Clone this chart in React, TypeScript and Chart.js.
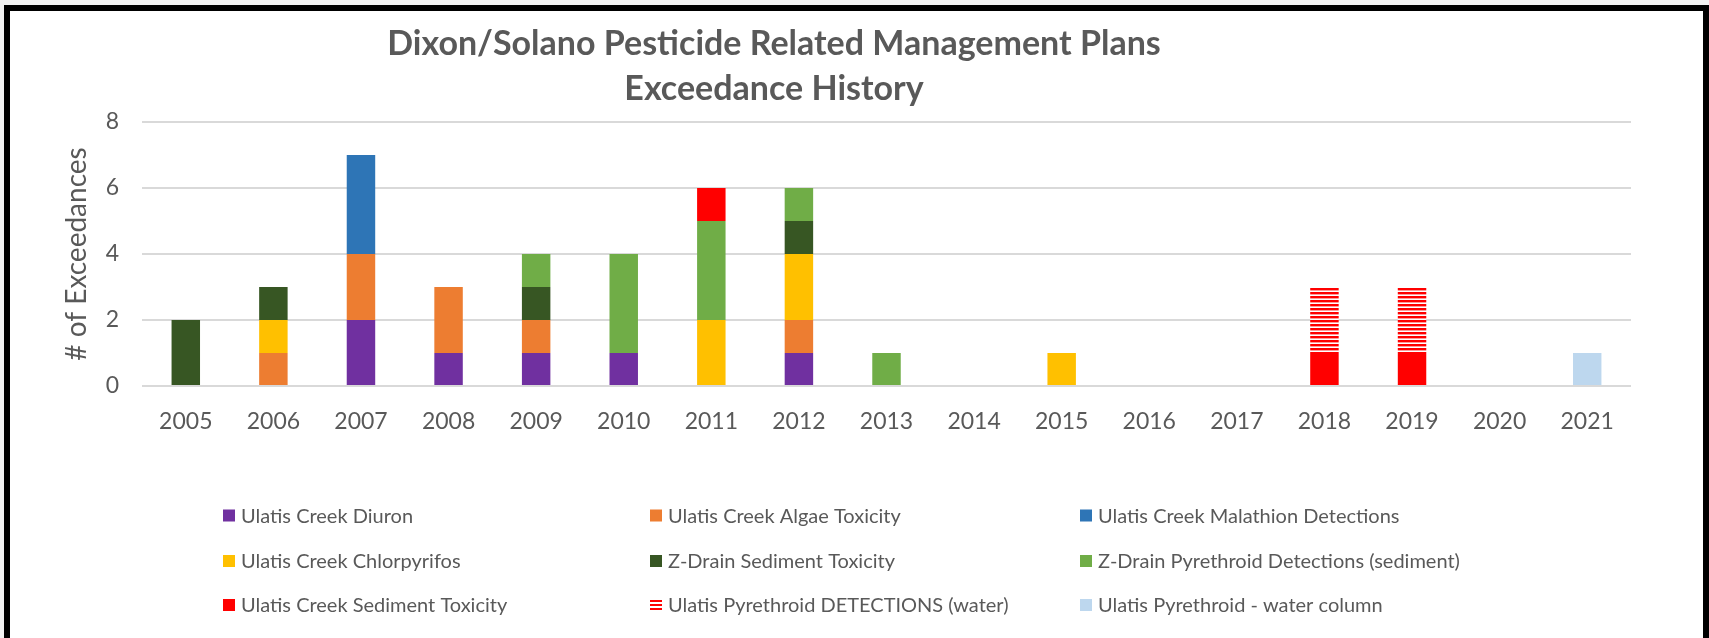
import React, { useEffect, useRef } from "react";
import { Chart, registerables } from "chart.js";

Chart.register(...registerables);

const years = ["2005","2006","2007","2008","2009","2010","2011","2012","2013","2014","2015","2016","2017","2018","2019","2020","2021"];

const seriesNames = [
  "Ulatis Creek Diuron",
  "Ulatis Creek Algae Toxicity",
  "Ulatis Creek Malathion Detections",
  "Ulatis Creek Chlorpyrifos",
  "Z-Drain Sediment Toxicity",
  "Z-Drain Pyrethroid Detections (sediment)",
  "Ulatis Creek Sediment Toxicity",
  "Ulatis Pyrethroid DETECTIONS (water)",
  "Ulatis Pyrethroid - water column",
];

//                       05 06 07 08 09 10 11 12 13 14 15 16 17 18 19 20 21
const diuron =         [0, 0, 2, 1, 1, 1, 0, 1, 0, 0, 0, 0, 0, 0, 0, 0, 0];
const algaeTox =       [0, 1, 2, 2, 1, 0, 0, 1, 0, 0, 0, 0, 0, 0, 0, 0, 0];
const malathion =      [0, 0, 3, 0, 0, 0, 0, 0, 0, 0, 0, 0, 0, 0, 0, 0, 0];
const chlorpyrifos =   [0, 1, 0, 0, 0, 0, 2, 2, 0, 0, 1, 0, 0, 0, 0, 0, 0];
const zDrainSedTox =   [2, 1, 0, 0, 1, 0, 0, 1, 0, 0, 0, 0, 0, 0, 0, 0, 0];
const zDrainPyr =      [0, 0, 0, 0, 1, 3, 3, 1, 1, 0, 0, 0, 0, 0, 0, 0, 0];
const ulatisSedTox =   [0, 0, 0, 0, 0, 0, 1, 0, 0, 0, 0, 0, 0, 1, 1, 0, 0];
const ulatisPyrWater = [0, 0, 0, 0, 0, 0, 0, 0, 0, 0, 0, 0, 0, 2, 2, 0, 0];
const ulatisPyrColumn =[0, 0, 0, 0, 0, 0, 0, 0, 0, 0, 0, 0, 0, 0, 0, 0, 1];

const seriesValues = [diuron, algaeTox, malathion, chlorpyrifos, zDrainSedTox, zDrainPyr, ulatisSedTox, ulatisPyrWater, ulatisPyrColumn];
const seriesColors = ["#7030A0", "#ED7D31", "#2E75B6", "#FFC000", "#375623", "#70AD47", "#FF0000", "HATCH", "#BDD7EE"];

const yTicks = [0, 2, 4, 6, 8];
const titleLines = ["Dixon/Solano Pesticide Related Management Plans", "Exceedance History"];
const yAxisTitle = "# of Exceedances";

const TEXT = "#595959";
const FONT = "Lato";

function makeHatch(): CanvasPattern | string {
  const c = document.createElement("canvas");
  c.width = 4;
  c.height = 4;
  const x = c.getContext("2d");
  if (!x) return "#FF0000";
  x.fillStyle = "#ffffff";
  x.fillRect(0, 0, 4, 4);
  x.fillStyle = "#FF0000";
  x.fillRect(0, 0, 4, 2);
  x.fillStyle = "#FF9A9A";
  x.fillRect(0, 2, 4, 1);
  const p = x.createPattern(c, "repeat");
  return p || "#FF0000";
}

const titlePlugin = {
  id: "customTitle",
  afterDraw(chart: any) {
    const ctx = chart.ctx;
    ctx.save();
    ctx.fillStyle = TEXT;
    ctx.font = `bold 34px ${FONT}`;
    ctx.textAlign = "center";
    ctx.textBaseline = "alphabetic";
    ctx.fillText(titleLines[0], 774, 55);
    ctx.fillText(titleLines[1], 774, 100);
    ctx.restore();
  },
};

const legendPlugin = {
  id: "gridLegend",
  afterDraw(chart: any) {
    const ctx = chart.ctx;
    const colX = [223, 650, 1080];
    const rowY = [515.5, 561, 605];
    ctx.save();
    ctx.font = `20px ${FONT}`;
    ctx.textBaseline = "middle";
    ctx.textAlign = "left";
    chart.data.datasets.forEach((ds: any, i: number) => {
      const x = colX[i % 3];
      const y = rowY[Math.floor(i / 3)];
      if (seriesColors[i] === "HATCH") {
        ctx.fillStyle = "#FF0000";
        ctx.fillRect(x, y - 5, 12, 2);
        ctx.fillRect(x, y - 1, 12, 2);
        ctx.fillRect(x, y + 3, 12, 2);
      } else {
        ctx.fillStyle = seriesColors[i];
        ctx.fillRect(x, y - 6, 12, 12);
      }
      ctx.fillStyle = TEXT;
      ctx.fillText(ds.label, x + 18, y + 1);
    });
    ctx.restore();
  },
};

export default function App() {
  const ref = useRef<HTMLCanvasElement | null>(null);

  useEffect(() => {
    document.body.style.margin = "0";
    if (!ref.current) return;
    const hatch = makeHatch();
    const chart = new Chart(ref.current, {
      type: "bar",
      data: {
        labels: years,
        datasets: seriesNames.map((name, i) => ({
          label: name,
          data: seriesValues[i],
          backgroundColor: seriesColors[i] === "HATCH" ? (hatch as any) : seriesColors[i],
          borderWidth: 0,
          barPercentage: 0.325,
          categoryPercentage: 1,
        })),
      },
      options: {
        responsive: false,
        animation: false,
        layout: { padding: { top: 122, right: 78, left: 0, bottom: 0 } },
        plugins: {
          legend: { display: false },
          title: { display: false },
          tooltip: { enabled: false },
        },
        scales: {
          x: {
            stacked: true,
            grid: { display: false, drawTicks: false },
            border: { display: false },
            ticks: { color: TEXT, font: { family: FONT, size: 23 }, padding: 22 },
            afterFit: (s: any) => { s.height = 638 - 386; },
          },
          y: {
            stacked: true,
            min: 0,
            max: 8,
            afterBuildTicks: (s: any) => { s.ticks = yTicks.map((v) => ({ value: v })); },
            grid: { color: "#D9D9D9", lineWidth: 2, drawTicks: false },
            border: { display: false },
            ticks: { color: TEXT, font: { family: FONT, size: 23 }, padding: 23 },
            title: {
              display: true,
              text: yAxisTitle,
              color: TEXT,
              font: { family: FONT, size: 28 },
              padding: { top: 60, bottom: 0 },
            },
            afterFit: (s: any) => { s.width = 142; },
          },
        },
      },
      plugins: [titlePlugin, legendPlugin],
    });
    return () => chart.destroy();
  }, []);

  return (
    <div style={{ position: "relative", width: 1709, height: 638, background: "#f3f3f3", overflow: "hidden" }}>
      <div
        style={{
          position: "absolute",
          left: 4,
          top: 5,
          width: 1705,
          height: 640,
          border: "6px solid #000",
          boxSizing: "border-box",
          background: "#fff",
        }}
      />
      <canvas ref={ref} width={1709} height={638} style={{ position: "absolute", left: 0, top: 0 }} />
    </div>
  );
}
